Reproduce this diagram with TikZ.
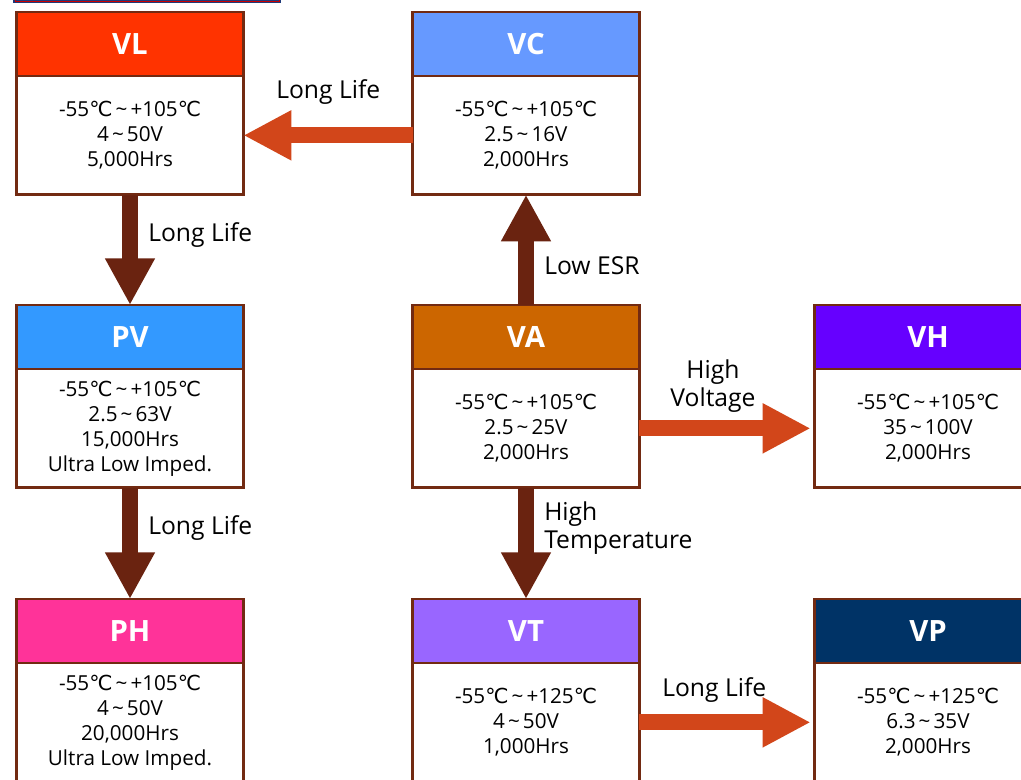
\documentclass[tikz,border=0pt]{standalone}
\usepackage{fontspec}
\setmainfont{Open Sans}
\newfontfamily\symfont{DejaVu Sans}
\usepackage{tikz, xcolor}
\usetikzlibrary{positioning,arrows.meta}

\definecolor{boxline}{HTML}{722A12}
\definecolor{darrow}{HTML}{6A2310}
\definecolor{oarrow}{HTML}{D2461A}
\definecolor{cVL}{HTML}{FF3300}
\definecolor{cVC}{HTML}{6699FF}
\definecolor{cPV}{HTML}{3399FF}
\definecolor{cVA}{HTML}{CC6600}
\definecolor{cVH}{HTML}{6600FF}
\definecolor{cPH}{HTML}{FF3399}
\definecolor{cVT}{HTML}{9966FF}
\definecolor{cVP}{HTML}{003366}
\definecolor{topnavy}{HTML}{1F3A7A}

\newcommand{\dgc}{{\symfont ℃}}
\newcommand{\tld}{\hspace{0.15em}\textasciitilde\hspace{0.15em}}

\begin{document}
\begin{tikzpicture}[x=0.75pt, y=-0.75pt]
\tikzstyle{headbox}=[rectangle, draw=boxline, line width=2.2pt, minimum width=170pt, minimum height=48pt, inner sep=0pt, outer sep=0pt, text=white, font=\fontsize{22}{26}\selectfont\bfseries]
\tikzstyle{bodybox}=[rectangle, draw=boxline, line width=2.2pt, fill=white, minimum width=170pt, minimum height=89pt, inner sep=0pt, outer sep=0pt, align=center, font=\fontsize{15.5}{18.75}\selectfont]
\tikzstyle{darrowstyle}=[draw=darrow, line width=12pt, -{Triangle[width=35pt, length=35pt]}]
\tikzstyle{oarrowstyle}=[draw=oarrow, line width=12pt, -{Triangle[width=35pt, length=36pt]}]
\tikzstyle{lbl}=[inner sep=0pt, align=left, font=\fontsize{18.5}{21}\selectfont]

\clip (0,0) rectangle (1021,779);
\fill[white] (0,0) rectangle (1021,779);
\fill[topnavy] (13,-10) rectangle (281,3);
\draw[red!80!black, line width=0.6pt] (15,-10) rectangle (279,1);

\node[headbox, fill=cVL] (VLh) at (130,44) {VL};
\node[bodybox, below=0pt of VLh] (VLb) {-55\dgc\tld+105\dgc\\4\tld50V\\5,000Hrs};
\node[headbox, fill=cVC] (VCh) at (526,44) {VC};
\node[bodybox, below=0pt of VCh] (VCb) {-55\dgc\tld+105\dgc\\2.5\tld16V\\2,000Hrs};
\node[headbox, fill=cPV] (PVh) at (130,337) {PV};
\node[bodybox, below=0pt of PVh] (PVb) {-55\dgc\tld+105\dgc\\2.5\tld63V\\15,000Hrs\\Ultra Low Imped.};
\node[headbox, fill=cVA] (VAh) at (526,337) {VA};
\node[bodybox, below=0pt of VAh] (VAb) {-55\dgc\tld+105\dgc\\2.5\tld25V\\2,000Hrs};
\node[headbox, fill=cVH] (VHh) at (928,337) {VH};
\node[bodybox, below=0pt of VHh] (VHb) {-55\dgc\tld+105\dgc\\35\tld100V\\2,000Hrs};
\node[headbox, fill=cPH] (PHh) at (130,631) {PH};
\node[bodybox, below=0pt of PHh] (PHb) {-55\dgc\tld+105\dgc\\4\tld50V\\20,000Hrs\\Ultra Low Imped.};
\node[headbox, fill=cVT] (VTh) at (526,631) {VT};
\node[bodybox, below=0pt of VTh] (VTb) {-55\dgc\tld+125\dgc\\4\tld50V\\1,000Hrs};
\node[headbox, fill=cVP] (VPh) at (928,631) {VP};
\node[bodybox, below=0pt of VPh] (VPb) {-55\dgc\tld+125\dgc\\6.3\tld35V\\2,000Hrs};

\draw[oarrowstyle] (VCb.west) -- (VLb.east);
\draw[darrowstyle] (VLb.south) -- (PVh.north);
\draw[darrowstyle] (PVb.south) -- (PHh.north);
\draw[darrowstyle] (VAh.north) -- (VCb.south);
\draw[darrowstyle] (VAb.south) -- (VTh.north);
\draw[oarrowstyle] (VAb.east) -- ([xshift=-3pt]VHb.west);
\draw[oarrowstyle] (VTb.east) -- ([xshift=-3pt]VPb.west);

\node[lbl, anchor=west] (L1) at (276,92) {Long Life};
\node[lbl, anchor=west] (L2) at (148,235) {Long Life};
\node[lbl, anchor=west] (L3) at (148,528) {Long Life};
\node[lbl, anchor=west] (L4) at (544,266) {Low ESR};
\node[lbl, align=center] (L5) at (713,386) {High\\Voltage};
\node[lbl, anchor=west] (L6) at (544,528) {High\\Temperature};
\node[lbl, anchor=west] (L7) at (662,690) {Long Life};
\end{tikzpicture}
\end{document}
